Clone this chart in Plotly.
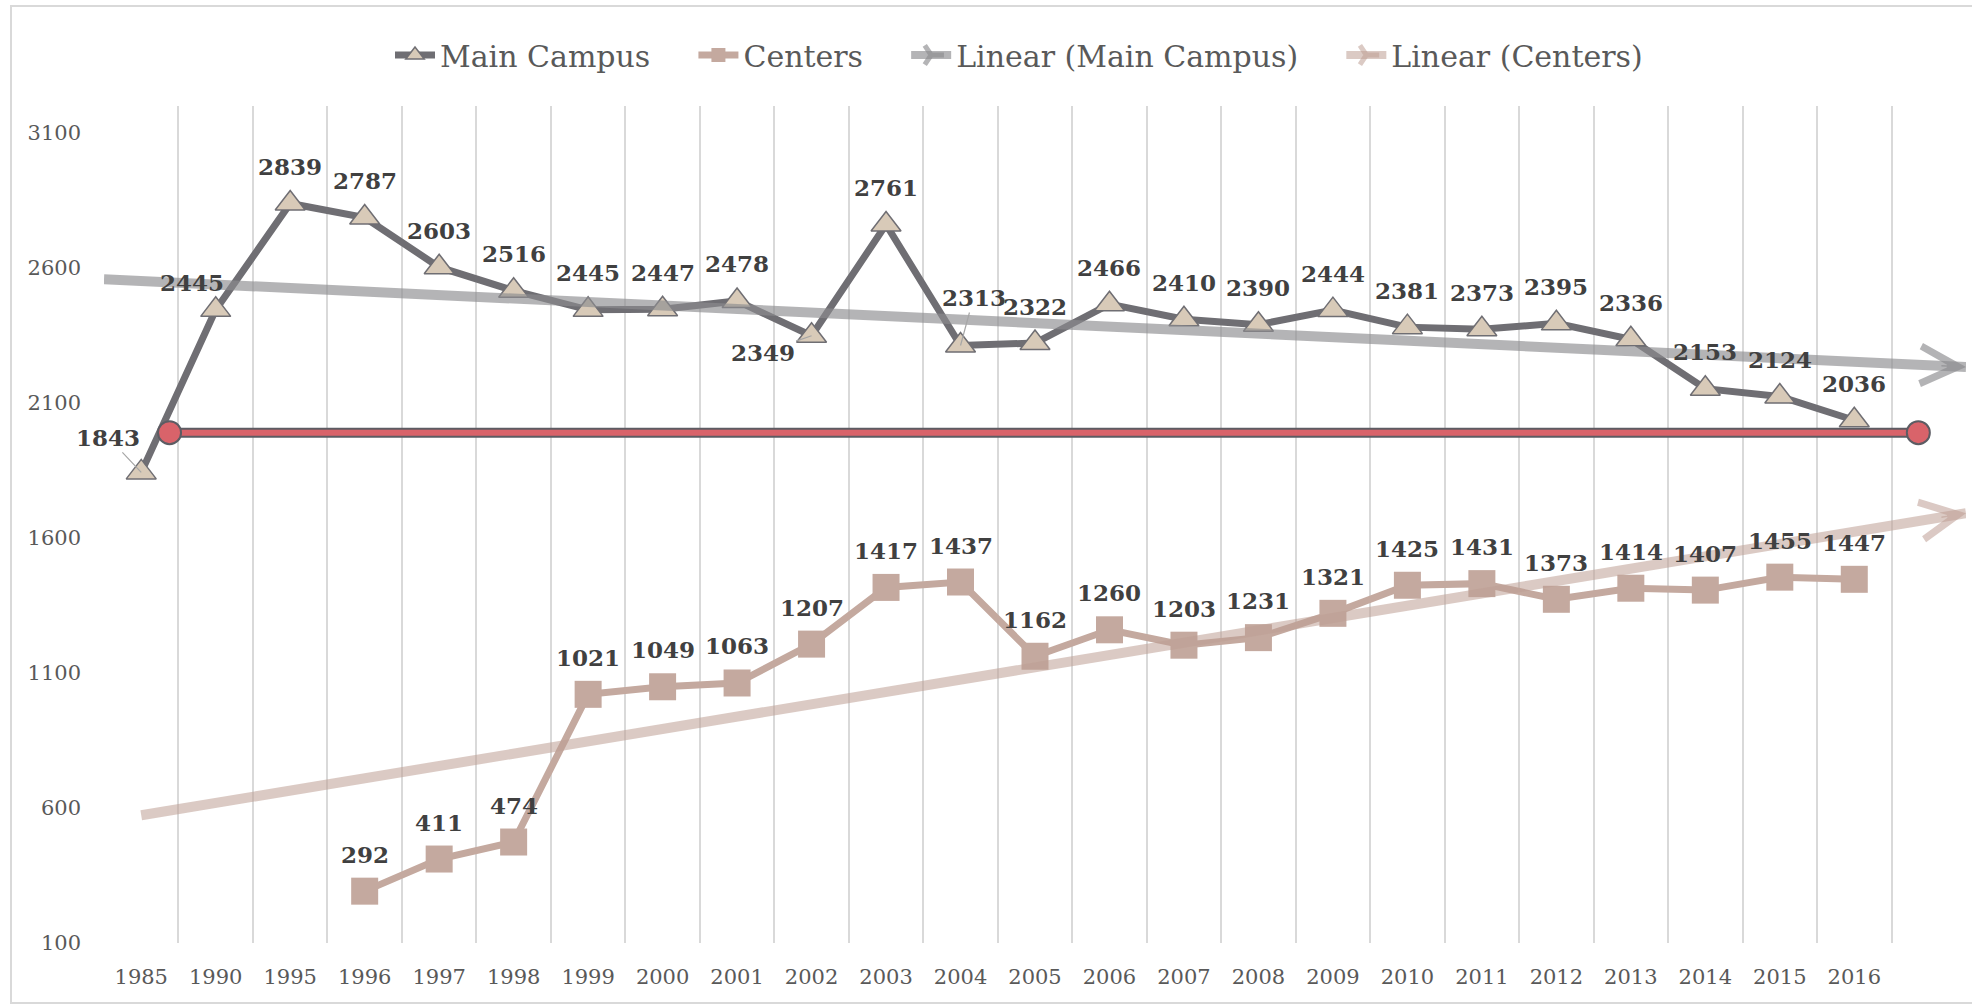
import numpy as np
import plotly.graph_objects as go

# ---------------- data ----------------
years = ["1985", "1990", "1995", "1996", "1997", "1998", "1999", "2000", "2001", "2002",
         "2003", "2004", "2005", "2006", "2007", "2008", "2009", "2010", "2011", "2012",
         "2013", "2014", "2015", "2016"]
main_campus = [1843, 2445, 2839, 2787, 2603, 2516, 2445, 2447, 2478, 2349,
               2761, 2313, 2322, 2466, 2410, 2390, 2444, 2381, 2373, 2395,
               2336, 2153, 2124, 2036]
centers = [None, None, None, 292, 411, 474, 1021, 1049, 1063, 1207,
           1417, 1437, 1162, 1260, 1203, 1231, 1321, 1425, 1431, 1373,
           1414, 1407, 1455, 1447]
target_value = 1990
y_ticks = [100, 600, 1100, 1600, 2100, 2600, 3100]
legend_names = ["Main Campus", "Centers", "Linear (Main Campus)", "Linear (Centers)"]

# ---------------- styling ----------------
FONT = "DejaVu Serif"
C_MAIN = "#6f6e73"
C_TRI = "#d8cab8"
C_CENT = "#c4a99f"
C_TREND_MAIN = "rgba(140,140,143,0.65)"
C_TREND_CENT = "rgba(190,158,148,0.55)"
C_RED = "#d9636a"
C_RED_EDGE = "#5c5c63"
C_LABEL = "#404040"
C_AXIS = "#595959"
C_GRID = "#d9d9d9"

W, H = 1972, 1005
ML, MR, MT, MB = 104, 6, 106, 62

x = list(range(len(years)))
xc = [i for i, v in zip(x, centers) if v is not None]
yc = [v for v in centers if v is not None]

# Excel-style linear trendlines (least squares), with forecast
pm = np.polyfit(x, main_campus, 1)
pc = np.polyfit(xc, yc, 1)
tm_x = [-0.5, len(years) + 0.5]
tc_x = [0, len(years) + 0.5]
tm_y = [float(np.polyval(pm, v)) for v in tm_x]
tc_y = [float(np.polyval(pc, v)) for v in tc_x]

fig = go.Figure()

# series
fig.add_trace(go.Scatter(
    x=x, y=main_campus, mode="lines+markers", name=legend_names[0], showlegend=False,
    line=dict(color=C_MAIN, width=7),
    marker=dict(symbol="triangle-up", size=26, color=C_TRI, line=dict(color=C_MAIN, width=1.5)),
))
fig.add_trace(go.Scatter(
    x=xc, y=yc, mode="lines+markers", name=legend_names[1], showlegend=False,
    line=dict(color=C_CENT, width=7),
    marker=dict(symbol="square", size=27, color=C_CENT),
))
# trendlines
fig.add_trace(go.Scatter(x=tm_x, y=tm_y, mode="lines", showlegend=False,
                         line=dict(color=C_TREND_MAIN, width=10)))
fig.add_trace(go.Scatter(x=tc_x, y=tc_y, mode="lines", showlegend=False,
                         line=dict(color=C_TREND_CENT, width=10)))
# red target line
red_x = [0.38, 23.86]
fig.add_trace(go.Scatter(x=red_x, y=[target_value] * 2, mode="lines", showlegend=False,
                         line=dict(color=C_RED_EDGE, width=10)))
fig.add_trace(go.Scatter(x=red_x, y=[target_value] * 2, mode="lines+markers", showlegend=False,
                         line=dict(color=C_RED, width=6),
                         marker=dict(symbol="circle", size=23, color=C_RED,
                                     line=dict(color=C_RED_EDGE, width=2))))

# legend entries (trailing no-break spaces give Excel-like spacing between items)
PAD = "\u00a0" * 4
fig.add_trace(go.Scatter(x=[None], y=[None], mode="lines+markers", name=legend_names[0] + PAD,
                         line=dict(color=C_MAIN, width=7),
                         marker=dict(symbol="triangle-up", size=16, color=C_TRI,
                                     line=dict(color=C_MAIN, width=1.5))))
fig.add_trace(go.Scatter(x=[None], y=[None], mode="lines+markers", name=legend_names[1] + PAD,
                         line=dict(color=C_CENT, width=7),
                         marker=dict(symbol="square", size=14, color=C_CENT)))
fig.add_trace(go.Scatter(x=[None], y=[None], mode="lines+markers", name=legend_names[2] + PAD,
                         line=dict(color=C_TREND_MAIN, width=8),
                         marker=dict(symbol="y-right", size=16, line=dict(color=C_TREND_MAIN, width=7))))
fig.add_trace(go.Scatter(x=[None], y=[None], mode="lines+markers", name=legend_names[3],
                         line=dict(color=C_TREND_CENT, width=8),
                         marker=dict(symbol="y-right", size=16, line=dict(color=C_TREND_CENT, width=7))))

annotations = []
# arrowheads on trendlines
for tx, ty, col in ((tm_x, tm_y, C_TREND_MAIN), (tc_x, tc_y, C_TREND_CENT)):
    back = tx[1] - 0.35
    annotations.append(dict(
        x=tx[1], y=ty[1], xref="x", yref="y",
        ax=back, ay=ty[0] + (ty[1] - ty[0]) * (back - tx[0]) / (tx[1] - tx[0]),
        axref="x", ayref="y", text="", showarrow=True,
        arrowhead=5, arrowwidth=1.5, arrowsize=4.9, arrowcolor=col,
    ))

label_font = dict(family=FONT, size=23, color=C_LABEL, weight="bold")
DY = 37
main_offsets = {0: (-33, 35), 1: (-24, 27), 9: (-49, -17), 11: (13, 48)}
main_leaders = {0, 9, 11}
for i, v in enumerate(main_campus):
    dx, dy = main_offsets.get(i, (0, DY))
    if i in main_leaders:
        annotations.append(dict(x=i, y=v, xref="x", yref="y", text=str(v), font=label_font,
                                showarrow=True, arrowhead=0, arrowwidth=1.2, arrowcolor="#a6a6a6",
                                ax=dx, ay=-dy, standoff=0))
    else:
        annotations.append(dict(x=i, y=v, xref="x", yref="y", text=str(v), font=label_font,
                                showarrow=False, xshift=dx, yshift=dy))
for i, v in zip(xc, yc):
    annotations.append(dict(x=i, y=v, xref="x", yref="y", text=str(v), font=label_font,
                            showarrow=False, yshift=DY))

pw = W - ML - MR
ph = H - MT - MB
shapes = [dict(type="rect", xref="paper", yref="paper",
               x0=(11 - ML) / pw, x1=(W + 4 - ML) / pw,
               y0=(H - MB - 1003) / ph, y1=(H - MB - 6) / ph,
               line=dict(color=C_GRID, width=2), fillcolor="rgba(0,0,0,0)", layer="below")]

fig.update_layout(
    width=W, height=H,
    margin=dict(l=ML, r=MR, t=MT, b=MB),
    paper_bgcolor="white", plot_bgcolor="white",
    font=dict(family=FONT, color=C_AXIS, size=21),
    showlegend=True,
    legend=dict(orientation="h", x=(1019 - ML) / pw, xanchor="center",
                y=1 + (MT - 55) / ph, yanchor="middle",
                font=dict(family=FONT, size=30, color=C_AXIS), itemwidth=40,
                bgcolor="rgba(0,0,0,0)"),
    annotations=annotations,
    shapes=shapes,
)
fig.update_xaxes(
    range=[-0.5, len(years) + 0.5], tickmode="array", tickvals=x, ticktext=years,
    showgrid=False, zeroline=False, showline=False, ticks="",
    tickfont=dict(family=FONT, size=21, color=C_AXIS), ticklabelstandoff=19,
    minor=dict(tickmode="linear", tick0=-0.5, dtick=1, showgrid=True, gridcolor=C_GRID, gridwidth=2),
)
fig.update_yaxes(
    range=[100, 3200], tickmode="array", tickvals=y_ticks,
    showgrid=False, zeroline=False, showline=False, ticks="",
    tickfont=dict(family=FONT, size=21, color=C_AXIS), ticklabelstandoff=22,
)

fig.write_html("out.html", config={"displayModeBar": False},
               post_script="document.body.style.margin='0';document.body.style.padding='0';")
